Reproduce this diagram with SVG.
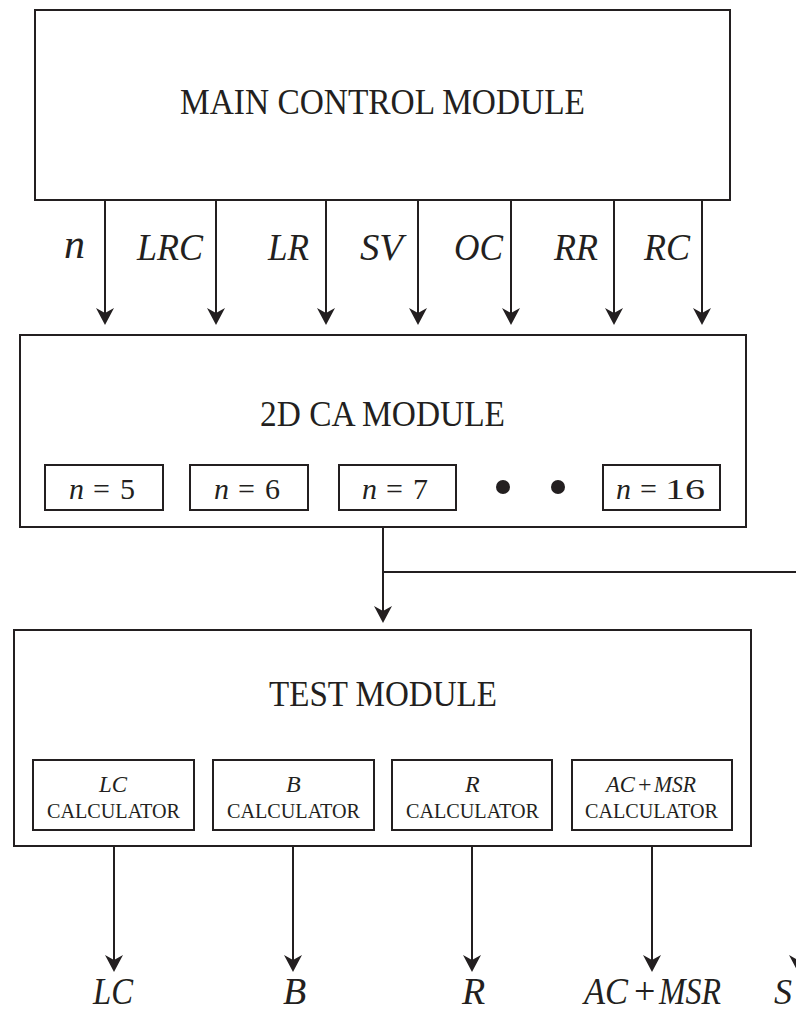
<svg xmlns="http://www.w3.org/2000/svg" width="796" height="1015" viewBox="0 0 796 1015">
<style>
  .box{fill:#fff;stroke:#231f20;stroke-width:2}
  .sbox{fill:#fff;stroke:#231f20;stroke-width:2}
  .wire{fill:none;stroke:#231f20;stroke-width:2}
  text{font-family:"Liberation Serif","Times New Roman",serif;fill:#231f20}
  .title{font-size:35px}
  .lab{font-size:38px;font-style:italic}
  .eq{font-size:30px}
  .it{font-style:italic}
  .calc{font-size:22px}
  .calci{font-size:24px;font-style:italic}
</style>
<defs>
  <marker id="arr" markerUnits="userSpaceOnUse" viewBox="-10 -10 22 20" refX="0" refY="0" markerWidth="22" markerHeight="20" orient="auto">
    <path d="M10,0 L-7,-9 L-2,0 L-7,9 Z" fill="#231f20"/>
  </marker>
</defs>

<g id="connectors">
  <path class="wire" d="M105,200 V315" marker-end="url(#arr)"/>
  <path class="wire" d="M216,200 V315" marker-end="url(#arr)"/>
  <path class="wire" d="M326,200 V315" marker-end="url(#arr)"/>
  <path class="wire" d="M418,200 V315" marker-end="url(#arr)"/>
  <path class="wire" d="M511,200 V315" marker-end="url(#arr)"/>
  <path class="wire" d="M614,200 V315" marker-end="url(#arr)"/>
  <path class="wire" d="M702,200 V315" marker-end="url(#arr)"/>
  <path class="wire" d="M383,527 V613" marker-end="url(#arr)"/>
  <path class="wire" d="M383,572 H798 V962" marker-end="url(#arr)"/>
  <path class="wire" d="M114,846 V962" marker-end="url(#arr)"/>
  <path class="wire" d="M293,846 V962" marker-end="url(#arr)"/>
  <path class="wire" d="M472,846 V962" marker-end="url(#arr)"/>
  <path class="wire" d="M652,846 V962" marker-end="url(#arr)"/>
  <text class="lab" x="64" y="258" style="font-size:42px">n</text>
  <text class="lab" x="137" y="260" textLength="66" lengthAdjust="spacingAndGlyphs">LRC</text>
  <text class="lab" x="268" y="260" textLength="41" lengthAdjust="spacingAndGlyphs">LR</text>
  <text class="lab" x="360" y="260" textLength="43" lengthAdjust="spacingAndGlyphs">SV</text>
  <text class="lab" x="454" y="260" textLength="49" lengthAdjust="spacingAndGlyphs">OC</text>
  <text class="lab" x="554" y="260" textLength="44" lengthAdjust="spacingAndGlyphs">RR</text>
  <text class="lab" x="644" y="260" textLength="46" lengthAdjust="spacingAndGlyphs">RC</text>
</g>

<g id="main-control">
  <rect class="box" x="35" y="10" width="695" height="190"/>
  <text class="title" x="180" y="114" textLength="405" lengthAdjust="spacingAndGlyphs">MAIN CONTROL MODULE</text>
</g>

<g id="ca-module">
  <rect class="box" x="20" y="335" width="726" height="192"/>
  <text class="title" x="260" y="426" textLength="245" lengthAdjust="spacingAndGlyphs">2D CA MODULE</text>
  <g id="n5">
    <rect class="sbox" x="45" y="465" width="118" height="45"/>
    <text class="eq" y="499"><tspan class="it" x="69">n</tspan><tspan x="93">=</tspan><tspan x="120">5</tspan></text>
  </g>
  <g id="n6">
    <rect class="sbox" x="190" y="465" width="118" height="45"/>
    <text class="eq" y="499"><tspan class="it" x="214">n</tspan><tspan x="238">=</tspan><tspan x="265">6</tspan></text>
  </g>
  <g id="n7">
    <rect class="sbox" x="339" y="465" width="117" height="45"/>
    <text class="eq" y="499"><tspan class="it" x="362">n</tspan><tspan x="386">=</tspan><tspan x="413">7</tspan></text>
  </g>
  <circle cx="503" cy="487" r="7" fill="#231f20"/>
  <circle cx="558" cy="487" r="7" fill="#231f20"/>
  <g id="n16">
    <rect class="sbox" x="603" y="465" width="117" height="45"/>
    <text class="eq" y="499"><tspan class="it" x="616">n</tspan><tspan x="640">=</tspan><tspan x="665" textLength="40" lengthAdjust="spacingAndGlyphs">16</tspan></text>
  </g>
</g>

<g id="test-module">
  <rect class="box" x="14" y="630" width="737" height="216"/>
  <text class="title" x="269" y="706" textLength="228" lengthAdjust="spacingAndGlyphs">TEST MODULE</text>
  <g id="lc-calc">
    <rect class="sbox" x="33" y="760" width="161" height="70"/>
    <text class="calci" x="99" y="792" textLength="28" lengthAdjust="spacingAndGlyphs">LC</text>
    <text class="calc" x="47" y="818" textLength="133" lengthAdjust="spacingAndGlyphs">CALCULATOR</text>
  </g>
  <g id="b-calc">
    <rect class="sbox" x="213" y="760" width="161" height="70"/>
    <text class="calci" x="286" y="792">B</text>
    <text class="calc" x="227" y="818" textLength="133" lengthAdjust="spacingAndGlyphs">CALCULATOR</text>
  </g>
  <g id="r-calc">
    <rect class="sbox" x="392" y="760" width="160" height="70"/>
    <text class="calci" x="465" y="792">R</text>
    <text class="calc" x="406" y="818" textLength="133" lengthAdjust="spacingAndGlyphs">CALCULATOR</text>
  </g>
  <g id="acmsr-calc">
    <rect class="sbox" x="572" y="760" width="160" height="70"/>
    <text class="calc" y="792" style="font-size:24px"><tspan class="it" x="606" textLength="29" lengthAdjust="spacingAndGlyphs">AC</tspan><tspan x="638">+</tspan><tspan class="it" x="654" textLength="42" lengthAdjust="spacingAndGlyphs">MSR</tspan></text>
    <text class="calc" x="585" y="818" textLength="133" lengthAdjust="spacingAndGlyphs">CALCULATOR</text>
  </g>
</g>

<g id="outputs">
  <text class="lab" x="93" y="1004" textLength="40" lengthAdjust="spacingAndGlyphs">LC</text>
  <text class="lab" x="283" y="1004">B</text>
  <text class="lab" x="462" y="1004">R</text>
  <text class="lab" style="font-style:normal" y="1004"><tspan class="it" x="584" textLength="44" lengthAdjust="spacingAndGlyphs">AC</tspan><tspan x="634">+</tspan><tspan class="it" x="659" textLength="62" lengthAdjust="spacingAndGlyphs">MSR</tspan></text>
  <text class="lab" x="774" y="1004" style="font-size:36px">S</text>
</g>
</svg>
